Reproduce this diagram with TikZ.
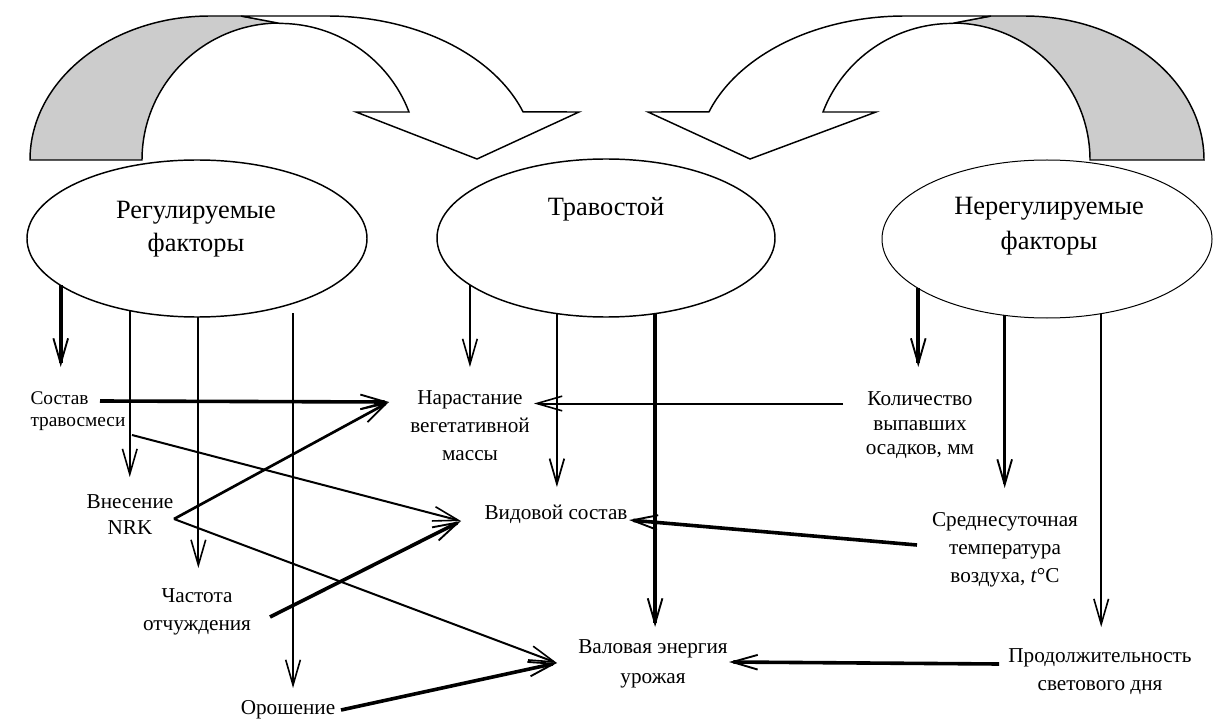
\documentclass[tikz,border=0pt]{standalone}
\usepackage{fontspec}
\setmainfont{Liberation Serif}
\usetikzlibrary{arrows.meta,shapes.geometric}

\tikzset{every picture/.style={line width=0.75pt}}
\tikzset{
  oval/.style={draw, ellipse, inner sep=0pt, outer sep=0pt, line width=1.1pt},
  bigtxt/.style={inner sep=0pt, anchor=north, align=center, font=\fontsize{19.8}{24.75}\selectfont},
  lbl/.style={inner sep=0pt, anchor=north, align=center, font=\fontsize{15.9}{21}\selectfont},
  thinarr/.style={line width=1.5pt, -{Straight Barb[length=19pt,width=11pt,line width=1.2pt]}},
  midarr/.style={line width=2pt, -{Straight Barb[length=19pt,width=11pt,line width=1.3pt]}},
  thickarr/.style={line width=2.7pt, -{Straight Barb[length=19pt,width=11pt,line width=1.4pt]}}
}

\begin{document}
\begin{tikzpicture}[x=0.75pt,y=0.75pt,yscale=-1,xscale=1]
\useasboundingbox (0,0) rectangle (1213,720);

%Shape: Curved Arrow left
\draw [line width=1.1pt, fill={rgb, 255:red, 204; green, 204; blue, 204 }] (30,160) arc [start angle=180, end angle=270, x radius=180, y radius=144] -- (241,16) -- (280,23) arc [start angle=270, end angle=180, x radius=138, y radius=137] -- cycle ;
\draw [line width=1.1pt, fill=white] (241,16) -- (327,16) arc [start angle=270, end angle=340.5, x radius=208, y radius=144] -- (579,112) -- (477,159) -- (356,112) -- (409,112) arc [start angle=339.3, end angle=270, x radius=138, y radius=137] -- cycle ;
%Shape: Curved Arrow right
\draw [line width=1.1pt, fill={rgb, 255:red, 204; green, 204; blue, 204 }] (1204,160) arc [start angle=0, end angle=-90, x radius=180, y radius=144] -- (991,16) -- (952,23) arc [start angle=270, end angle=360, x radius=138, y radius=137] -- cycle ;
\draw [line width=1.1pt, fill=white] (991,16) -- (905,16) arc [start angle=270, end angle=199.5, x radius=208, y radius=144] -- (648,112) -- (750,159) -- (876,112) -- (823,112) arc [start angle=200.7, end angle=270, x radius=138, y radius=137] -- cycle ;

%Shape: Ellipse
\node (regf) [oval, minimum width=255pt, minimum height=117.75pt] at (197,238.5) {};
\node (trav) [oval, minimum width=253.5pt, minimum height=118.5pt] at (606,238) {};
\node (neregf) [oval, line width=0.75pt, minimum width=247.5pt, minimum height=118.5pt] at (1047,239) {};

% Text Node
\node (regtxt) [bigtxt] at (196,200.8) {Регулируемые\\факторы};
% Text Node
\node (travtxt) [bigtxt] at (606,196.8) {Травостой};
% Text Node
\node (neregtxt) [bigtxt, font=\fontsize{19.8}{26}\selectfont] at (1049,196.8) {Нерегулируемые\\факторы};

% Text Node
\node (sostav) [lbl, anchor=north west, align=left, font=\fontsize{14.5}{16.5}\selectfont] at (30,391.4) {Состав\\травосмеси};
% Text Node
\node (vnes) [lbl, font=\fontsize{15.9}{19.5}\selectfont] at (130,494.4) {Внесение\\NRK};
% Text Node
\node (chast) [lbl] at (197,588.4) {Частота\\отчуждения};
% Text Node
\node (orosh) [lbl] at (288,700) {Орошение};
% Text Node
\node (narast) [lbl] at (470,390.4) {Нарастание\\вегетативной\\массы};
% Text Node
\node (vidov) [lbl] at (556,504.4) {Видовой состав};
% Text Node
\node (valov) [lbl, font=\fontsize{15.9}{22.5}\selectfont] at (653,639.4) {Валовая энергия\\урожая};
% Text Node
\node (kolich) [lbl, font=\fontsize{15.9}{18.4}\selectfont] at (920,391.4) {Количество\\выпавших\\осадков, мм};
% Text Node
\node (sredn) [lbl] at (1005,512.4) {Среднесуточная\\температура\\воздуха, \textit{t}°C};
% Text Node
\node (prodol) [lbl] at (1100,648.4) {Продолжительность\\светового дня};

% ends of the slanted connectors
\coordinate (sostav-r) at (100,401);
\coordinate (sostav-d) at (132,435);
\coordinate (vnes-r) at (174,519);
\coordinate (chast-r) at (270,617);
\coordinate (orosh-r) at (341,710);
\coordinate (narast-l) at (389,402);
\coordinate (narast-r) at (534,403.5);
\coordinate (vidov-l) at (461,521);
\coordinate (vidov-r) at (629,520);
\coordinate (valov-l) at (557,663);
\coordinate (valov-r) at (729,662);
\coordinate (kolich-l) at (843,403.5);
\coordinate (sredn-l) at (917,545);
\coordinate (prodol-l) at (999,664);

%Straight Lines: down from the ellipses
\draw [thickarr, shorten >=18.3pt] (regf.199) -- (regf.199 |- sostav.north);
\draw [thinarr, shorten >=13pt] (regf.227) -- (regf.227 |- vnes.north);
\draw [thinarr, shorten >=15.3pt] (regf.271) -- (regf.271 |- chast.north);
\draw [thinarr, shorten <=7.5pt, shorten >=9pt] (regf.326) -- (regf.326 |- orosh.north);
\draw [thinarr, shorten >=17.5pt] (trav.199) -- (trav.199 |- narast.north);
\draw [midarr, shorten >=13pt] (trav.237) -- (trav.237 |- vidov.north);
\draw [thickarr, shorten >=9.3pt] (trav.303) -- (trav.303 |- valov.north);
\draw [thickarr, shorten >=18.3pt] (neregf.201) -- (neregf.201 |- kolich.north);
\draw [thickarr, shorten >=18.3pt] (neregf.241) -- (neregf.241 |- sredn.north);
\draw [thinarr, shorten >=16pt] (neregf.306) -- (neregf.306 |- prodol.north);

%Straight Lines: between the factors
\draw [thickarr] (sostav-r) -- (narast-l);
\draw [thinarr] (sostav-d) -- (vidov-l);
\draw [midarr] (vnes-r) -- (narast-l);
\draw [thinarr] (vnes-r) -- (valov-l);
\draw [thickarr] (chast-r) -- (vidov-l);
\draw [thickarr] (orosh-r) -- (valov-l);
\draw [thinarr] (kolich-l) -- (narast-r);
\draw [thickarr] (sredn-l) -- (vidov-r);
\draw [thickarr] (prodol-l) -- (valov-r);

\end{tikzpicture}
\end{document}
